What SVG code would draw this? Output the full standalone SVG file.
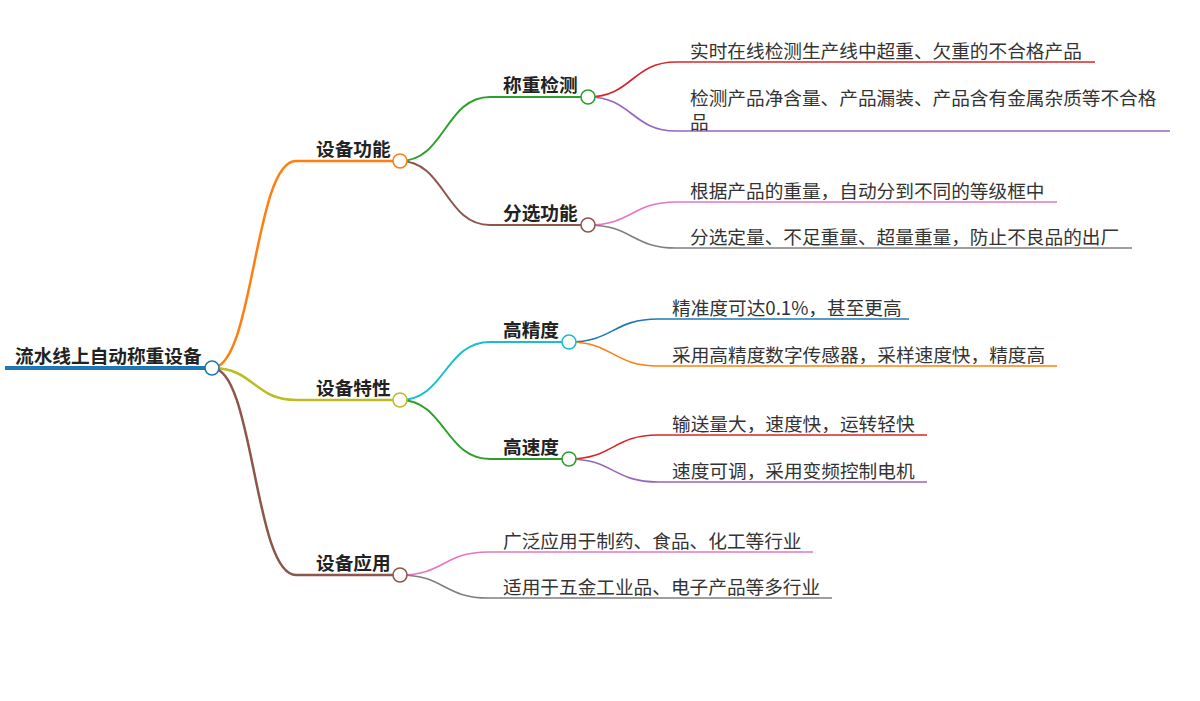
<svg xmlns="http://www.w3.org/2000/svg" width="1200" height="701" viewBox="0 0 1200 701">
<style>
text{font-family:"Noto Sans CJK SC","Liberation Sans",sans-serif;font-size:18.67px;fill:#333}
.b{font-weight:bold;fill:#222}
.lk{fill:none}
circle{fill:#fff;stroke-width:1.6}
line{stroke-linecap:butt}
.l0{stroke-width:4}.l1{stroke-width:2.5}.l2{stroke-width:2}.l3{stroke-width:1.6}
</style>
<rect width="1200" height="701" fill="#fff"/>
<g id="connectors" class="lk">
<path class="l1" stroke="#ff7f0e" d="M212,368 C254,368 254,161 296,161"/>
<path class="l1" stroke="#bcbd22" d="M212,368 C254,368 254,400 296,400"/>
<path class="l1" stroke="#8c564b" d="M212,368 C254,368 254,575 296,575"/>
<path class="l2" stroke="#2ca02c" d="M400,161 C445,161 445,97 490,97"/>
<path class="l2" stroke="#8c564b" d="M400,161 C445,161 445,225 490,225"/>
<path class="l2" stroke="#17becf" d="M400,400 C445,400 445,342 490,342"/>
<path class="l2" stroke="#2ca02c" d="M400,400 C445,400 445,459 490,459"/>
<path class="l3" stroke="#d62728" d="M588,97 C632,97 632,62 676,62"/>
<path class="l3" stroke="#9467bd" d="M588,97 C632,97 632,131 676,131"/>
<path class="l3" stroke="#e377c2" d="M588,225 C632,225 632,202 676,202"/>
<path class="l3" stroke="#7f7f7f" d="M588,225 C632,225 632,248 676,248"/>
<path class="l3" stroke="#1f77b4" d="M569,342 C613,342 613,319 658,319"/>
<path class="l3" stroke="#ff7f0e" d="M569,342 C613,342 613,366 658,366"/>
<path class="l3" stroke="#d62728" d="M569,459 C613,459 613,435 658,435"/>
<path class="l3" stroke="#9467bd" d="M569,459 C613,459 613,482 658,482"/>
<path class="l3" stroke="#e377c2" d="M400,575 C444,575 444,552 488,552"/>
<path class="l3" stroke="#7f7f7f" d="M400,575 C444,575 444,598 488,598"/>
</g>
<g id="root">
<line class="l0" x1="5" y1="368" x2="212" y2="368" stroke="#1f77b4"/>
<text class="b" x="15" y="363">流水线上自动称重设备</text>
<circle cx="212" cy="368" r="7" stroke="#1f77b4"/>
</g>
<g id="n-gongneng">
<line class="l1" x1="296" y1="161" x2="400" y2="161" stroke="#ff7f0e"/>
<text class="b" x="316" y="156">设备功能</text>
<circle cx="400" cy="161" r="7" stroke="#ff7f0e"/>
</g>
<g id="n-chengzhong">
<line class="l2" x1="490" y1="97" x2="588" y2="97" stroke="#2ca02c"/>
<text class="b" x="503" y="92">称重检测</text>
<circle cx="588" cy="97" r="7" stroke="#2ca02c"/>
</g>
<g id="leaf1">
<line class="l3" x1="676" y1="62" x2="1095" y2="62" stroke="#d62728"/>
<text x="690" y="58">实时在线检测生产线中超重、欠重的不合格产品</text>
</g>
<g id="leaf2">
<line class="l3" x1="676" y1="131" x2="1170" y2="131" stroke="#9467bd"/>
<text x="690" y="105">检测产品净含量、产品漏装、产品含有金属杂质等不合格<tspan x="690" y="129">品</tspan></text>
</g>
<g id="n-fenxuan">
<line class="l2" x1="490" y1="225" x2="588" y2="225" stroke="#8c564b"/>
<text class="b" x="503" y="220">分选功能</text>
<circle cx="588" cy="225" r="7" stroke="#8c564b"/>
</g>
<g id="leaf3">
<line class="l3" x1="676" y1="202" x2="1057" y2="202" stroke="#e377c2"/>
<text x="690" y="198">根据产品的重量，自动分到不同的等级框中</text>
</g>
<g id="leaf4">
<line class="l3" x1="676" y1="248" x2="1132" y2="248" stroke="#7f7f7f"/>
<text x="690" y="244">分选定量、不足重量、超量重量，防止不良品的出厂</text>
</g>
<g id="n-texing">
<line class="l1" x1="296" y1="400" x2="400" y2="400" stroke="#bcbd22"/>
<text class="b" x="316" y="395">设备特性</text>
<circle cx="400" cy="400" r="7" stroke="#bcbd22"/>
</g>
<g id="n-gaojingdu">
<line class="l2" x1="490" y1="342" x2="569" y2="342" stroke="#17becf"/>
<text class="b" x="503" y="337">高精度</text>
<circle cx="569" cy="342" r="7" stroke="#17becf"/>
</g>
<g id="leaf5">
<line class="l3" x1="658" y1="319" x2="909" y2="319" stroke="#1f77b4"/>
<text x="672" y="315">精准度可达0.1%，甚至更高</text>
</g>
<g id="leaf6">
<line class="l3" x1="658" y1="366" x2="1057" y2="366" stroke="#ff7f0e"/>
<text x="672" y="362">采用高精度数字传感器，采样速度快，精度高</text>
</g>
<g id="n-gaosudu">
<line class="l2" x1="490" y1="459" x2="569" y2="459" stroke="#2ca02c"/>
<text class="b" x="503" y="454">高速度</text>
<circle cx="569" cy="459" r="7" stroke="#2ca02c"/>
</g>
<g id="leaf7">
<line class="l3" x1="658" y1="435" x2="927" y2="435" stroke="#d62728"/>
<text x="672" y="431">输送量大，速度快，运转轻快</text>
</g>
<g id="leaf8">
<line class="l3" x1="658" y1="482" x2="927" y2="482" stroke="#9467bd"/>
<text x="672" y="478">速度可调，采用变频控制电机</text>
</g>
<g id="n-yingyong">
<line class="l1" x1="296" y1="575" x2="400" y2="575" stroke="#8c564b"/>
<text class="b" x="316" y="570">设备应用</text>
<circle cx="400" cy="575" r="7" stroke="#8c564b"/>
</g>
<g id="leaf9">
<line class="l3" x1="488" y1="552" x2="813" y2="552" stroke="#e377c2"/>
<text x="503" y="548">广泛应用于制药、食品、化工等行业</text>
</g>
<g id="leaf10">
<line class="l3" x1="488" y1="598" x2="832" y2="598" stroke="#7f7f7f"/>
<text x="503" y="594">适用于五金工业品、电子产品等多行业</text>
</g>
</svg>
